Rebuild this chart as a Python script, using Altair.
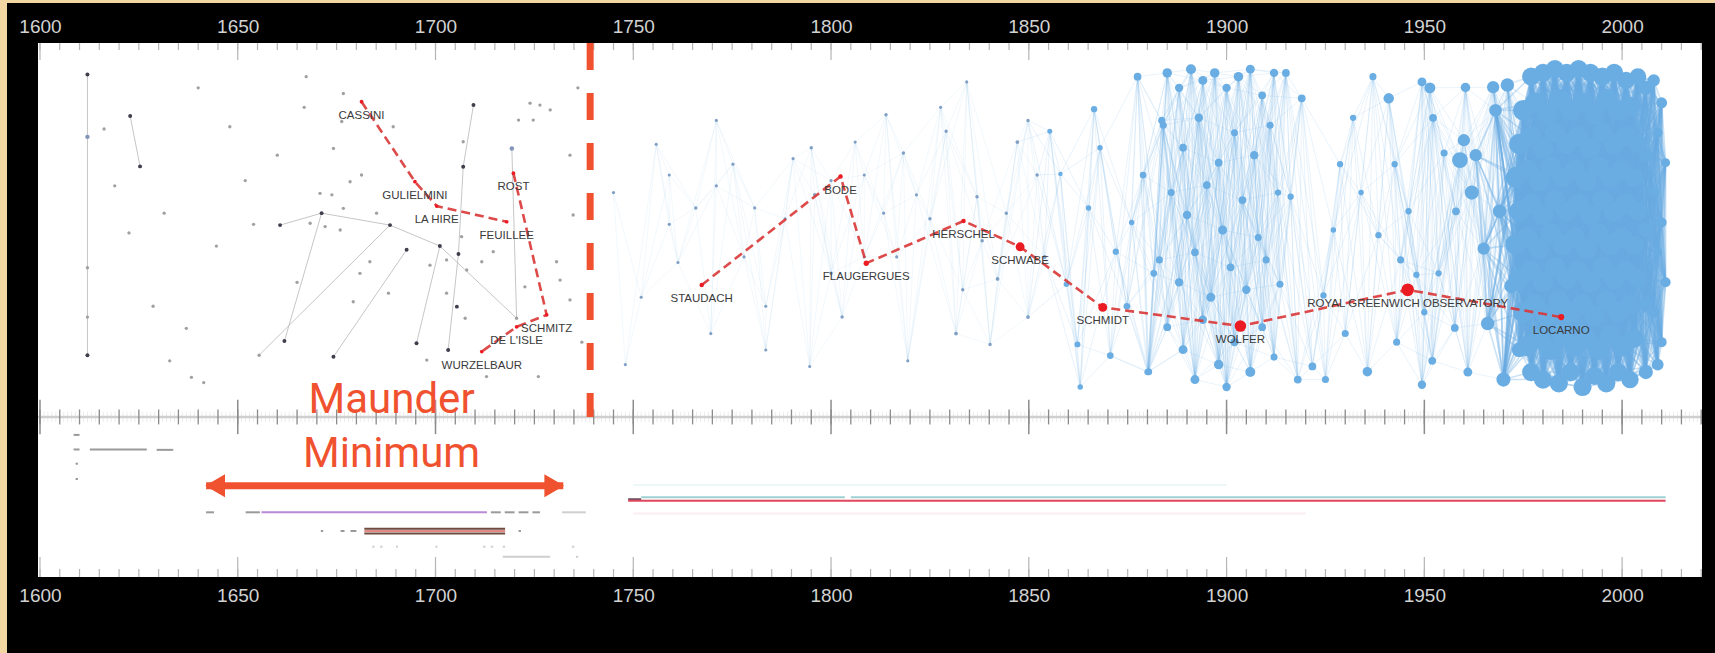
import altair as alt
import pandas as pd

# ---------------- axis ticks ----------------
TICK_YEARS = list(range(1600, 2021, 5))
MAJOR_YEARS = list(range(1600, 2021, 50))
LABEL_YEARS = list(range(1600, 2001, 50))
YEAR_TICKS = list(range(1600, 2021, 1))

# ---------------- pre-1740 observers (year, layout position, kind) ----------------
GRAY = [
    (1612, 8.4, "d"), (1612, 25.1, "s"), (1612, 60.1, "g"), (1612, 73.3, "g"), (1612, 83.5, "d"),   # 0-4
    (1622.8, 19.5, "d"), (1625.3, 33, "d"), (1616.2, 23, "g"), (1622.5, 50.8, "g"), (1632.8, 85, "g"),  # 5-9
    (1638.3, 89.4, "g"), (1641.4, 90.8, "g"), (1648, 22.4, "g"), (1654, 48.5, "g"), (1660.7, 48.7, "d"),  # 10-14
    (1661.8, 79.7, "d"), (1655.4, 83.5, "g"), (1637, 76.3, "g"), (1631.4, 45.5, "g"), (1644.6, 54.3, "g"),  # 15-19
    (1628.6, 70.4, "g"), (1618.9, 38.2, "g"), (1651.9, 36.8, "g"), (1667.3, 9, "g"), (1666.8, 17.2, "g"),  # 20-24
    (1676.7, 13.5, "g"), (1709.6, 16.6, "d"), (1723.9, 16.1, "g"), (1726.4, 16.6, "g"), (1729, 17.9, "g"),  # 25-29
    (1724.7, 20.6, "g"), (1721, 20.6, "g"), (1676.3, 21.0, "g"), (1689.3, 22.4, "g"), (1674.2, 28.2, "g"),  # 30-34
    (1707, 26.4, "g"), (1719.3, 28.2, "s"), (1707, 33.1, "d"), (1678.4, 37.1, "g"), (1681.3, 35.3, "g"),  # 35-39
    (1670.8, 40.2, "g"), (1673.8, 40.6, "g"), (1671.2, 45.5, "d"), (1688.5, 48.7, "d"), (1676.7, 44.2, "g"),  # 40-44
    (1685.1, 45.5, "g"), (1668.3, 48.2, "g"), (1672.1, 49.1, "g"), (1675.9, 50, "g"), (1706.6, 51.8, "g"),  # 45-49
    (1692.7, 55.3, "d"), (1701.1, 54.3, "d"), (1705.8, 56.4, "d"), (1714.6, 55.8, "g"), (1683.4, 58.5, "g"),  # 50-54
    (1680.9, 61.6, "g"), (1698.6, 59.4, "g"), (1702.8, 58.0, "g"), (1707.9, 60.7, "g"), (1711.7, 58.5, "g"),  # 55-59
    (1730.6, 58.5, "g"), (1734.8, 46.0, "g"), (1679.2, 69.2, "g"), (1688.1, 66.9, "g"), (1702.8, 66.9, "g"),  # 60-64
    (1705.4, 70.5, "d"), (1707.5, 73.6, "g"), (1722.6, 65.2, "g"), (1731.5, 63.4, "g"), (1734, 68.7, "g"),  # 65-69
    (1674.2, 83.9, "d"), (1695.2, 80.3, "d"), (1703.2, 82.1, "d"), (1697.8, 84.8, "g"), (1712.9, 89.2, "g"),  # 70-74
    (1720.5, 73.6, "g"), (1726, 89.2, "g"), (1665, 64, "g"), (1660, 30, "g"), (1640, 12, "g"),  # 75-79
    (1734, 30, "g"), (1737, 80, "g"), (1736, 12, "g"),  # 80-82
]
GRAY_EDGES = [
    (0, 1), (1, 2), (2, 3), (3, 4), (5, 6), (26, 37), (37, 52), (52, 72), (36, 75),
    (51, 71), (14, 42), (42, 43), (43, 51), (43, 16), (50, 70), (15, 42), (51, 75),
]

# ---------------- post-1740 observers (year, layout position, weight) ----------------
BLUE_A = [
    (1755.8, 27.1, 10), (1759.1, 35.3, 10), (1765.8, 44.1, 12), (1759.1, 48.5, 10), (1771, 38.2, 10),
    (1775.2, 32.4, 10), (1780.7, 44.1, 10), (1783.5, 70.4, 10), (1778, 57.2, 10), (1788.4, 47, 10),
    (1795, 28, 12), (1795.9, 40.6, 14), (1800, 36.8, 10), (1802.8, 73.3, 12), (1806.1, 26.5, 10),
    (1808.4, 35.3, 10), (1813.9, 19.2, 12), (1813.3, 45.5, 10), (1816.6, 57.2, 10), (1818.3, 29.4, 12),
    (1821.6, 40.6, 10), (1825, 47, 12), (1827.7, 17.2, 10), (1829.1, 23.6, 12), (1831.6, 77.7, 14),
    (1833.3, 66, 12), (1836.9, 41.1, 12), (1838.2, 52.9, 12), (1840.2, 80.6, 12), (1842.1, 63.1, 14),
    (1844.3, 45.5, 12), (1847.1, 26.5, 14), (1849.8, 73.3, 14), (1852.1, 35.3, 12), (1854, 57.2, 16),
    (1834.3, 10.4, 10), (1849.8, 20.7, 12), (1808.4, 57.2, 10), (1800, 61.6, 12), (1790.4, 30.9, 10),
    (1771, 20.7, 10), (1761.3, 58.7, 10), (1769.6, 77.7, 10), (1783.5, 82.1, 10), (1794.6, 86.5, 10),
    (1819.4, 85, 10), (1745, 40, 10), (1752, 68, 10), (1748, 86, 10),
]
BLUE_B = [
    (1855.3, 23.6, 25), (1859.5, 64.5, 30), (1862.3, 80.6, 35), (1865.1, 44.1, 30), (1866.5, 17.7, 40),
    (1870.6, 83.6, 45), (1872, 55.8, 40), (1874.8, 70.4, 45), (1877.5, 9, 60), (1878.9, 35.3, 45),
    (1880.3, 87.9, 50), (1881.6, 61.6, 45), (1883.6, 20.7, 50), (1858, 35, 20), (1863, 92, 30),
    (1868, 28, 30), (1876, 48, 30),
    (1885, 8, 90), (1888, 12, 70), (1891, 7, 100), (1894, 10, 80), (1897, 8, 90), (1900, 12, 70),
    (1903, 9, 90), (1906, 7, 80), (1909, 14, 60), (1912, 8, 70),
    (1884, 22, 50), (1889, 28, 60), (1893, 20, 70), (1898, 32, 60), (1902, 24, 50), (1907, 30, 70), (1911, 22, 50),
    (1886, 40, 50), (1890, 46, 70), (1895, 38, 60), (1899, 50, 80), (1904, 42, 60), (1908, 52, 50), (1913, 40, 40),
    (1883, 58, 50), (1888, 64, 70), (1892, 56, 60), (1896, 68, 80), (1901, 60, 60), (1905, 66, 70), (1910, 58, 50),
    (1885, 76, 60), (1889, 82, 80), (1894, 74, 70), (1898, 86, 90), (1902, 80, 70), (1906, 88, 100), (1909, 76, 60),
    (1912, 84, 50), (1880, 88, 40), (1892, 90, 80), (1900, 92, 70),
    (1913.5, 64.5, 50), (1916.2, 41.1, 40), (1919, 14.8, 60), (1921.7, 86.5, 60), (1924.5, 67.5, 40),
    (1928.7, 32.4, 40), (1930, 77.7, 50), (1935.6, 87.9, 90), (1938.4, 51.4, 40), (1941, 14.8, 110),
    (1942.5, 32.4, 40), (1949.4, 10.4, 80), (1949.4, 91.4, 70), (1953.6, 61.6, 40), (1955, 29.4, 50),
    (1957.7, 76.2, 60), (1960.4, 11.9, 90), (1944, 58, 50), (1948, 62, 40), (1950, 72, 40),
    (1943, 80, 50), (1952, 85, 60), (1925, 90, 50), (1932, 20, 40), (1937, 9, 50), (1946, 45, 40),
    (1958, 45, 60), (1961, 88, 80), (1918, 90, 60), (1915, 8, 60), (1927, 50, 30), (1934, 40, 30),
    (1951.4, 12, 120), (1952.2, 20, 60), (1967.4, 11.8, 150), (1971, 11.2, 180),
    (1959, 31.3, 250), (1962, 40, 200), (1972.5, 53.5, 250), (1960, 26, 150),
]
BLOB = [
    (1963, 30, 150), (1965, 55, 150), (1966, 75, 180), (1968, 18, 160), (1969, 45, 180), (1970, 90, 200),
    (1972, 65, 200), (1973, 35, 200), (1974, 82, 220),
    (1977, 9, 330), (1980, 8, 330), (1983, 7, 330), (1986, 8, 330), (1989, 7, 330), (1992, 8, 330),
    (1995, 9, 330), (1998, 8, 330), (2001, 10, 300), (2004, 9, 280),
    (1975, 18, 420), (1978, 16, 420), (1981, 19, 420), (1984, 15, 420), (1987, 18, 420), (1990, 16, 420),
    (1993, 19, 420), (1996, 15, 420), (1999, 18, 420), (2002, 17, 380),
    (1974, 27, 420), (1977, 25, 420), (1980, 28, 420), (1983, 24, 420), (1986, 27, 420), (1989, 25, 420),
    (1992, 28, 420), (1995, 24, 420), (1998, 27, 420), (2001, 25, 420), (2004, 27, 360),
    (1973, 36, 380), (1976, 34, 420), (1979, 37, 420), (1982, 33, 420), (1985, 36, 420), (1988, 34, 420),
    (1991, 37, 420), (1994, 33, 420), (1997, 36, 420), (2000, 34, 420), (2003, 36, 360),
    (1974, 45, 420), (1977, 43, 420), (1980, 46, 420), (1983, 42, 420), (1986, 45, 420), (1989, 43, 420),
    (1992, 46, 420), (1995, 42, 420), (1998, 45, 420), (2001, 43, 420), (2004, 45, 360),
    (1973, 54, 380), (1976, 52, 420), (1979, 55, 420), (1982, 51, 420), (1985, 54, 420), (1988, 52, 420),
    (1991, 55, 420), (1994, 51, 420), (1997, 54, 420), (2000, 52, 420), (2003, 54, 360),
    (1974, 63, 420), (1977, 61, 420), (1980, 64, 420), (1983, 60, 420), (1986, 63, 420), (1989, 61, 420),
    (1992, 64, 420), (1995, 60, 420), (1998, 63, 420), (2001, 61, 420), (2004, 63, 360),
    (1975, 72, 420), (1978, 70, 420), (1981, 73, 420), (1984, 69, 420), (1987, 72, 420), (1990, 70, 420),
    (1993, 73, 420), (1996, 69, 420), (1999, 72, 420), (2002, 70, 380),
    (1976, 81, 420), (1979, 79, 420), (1982, 82, 420), (1985, 78, 420), (1988, 81, 420), (1991, 79, 420),
    (1994, 82, 420), (1997, 78, 420), (2000, 81, 420), (2003, 79, 360),
    (1977, 88, 330), (1980, 90, 330), (1984, 91, 330), (1987, 88, 330), (1990, 92, 330), (1993, 89, 330),
    (1996, 91, 330), (1999, 88, 330), (2002, 90, 300),
    (2008, 10, 150), (2010, 16, 120), (2009, 24, 100), (2011, 32, 80), (2008, 40, 120), (2010, 48, 100),
    (2009, 56, 80), (2011, 64, 100), (2008, 72, 120), (2010, 80, 100), (2009, 86, 140), (2006, 50, 200),
    (2006, 30, 200), (2006, 70, 200), (2006, 12, 200), (2006, 88, 200),
]

# ---------------- primary-observer backbone ----------------
PATH_NAMES = ["CASSINI", "GULIELMINI", "LA HIRE", "FEUILLEE",
              "ROST", "SCHMITZ", "DE L'ISLE", "WURZELBAUR",
              "STAUDACH", "BODE", "FLAUGERGUES", "HERSCHEL", "SCHWABE", "SCHMIDT",
              "WOLFER", "ROYAL GREENWICH OBSERVATORY", "LOCARNO"]
PATH_YEAR = [1681.3, 1694.8, 1700.3, 1718.0,
             1719.7, 1728.1, 1720.5, 1711.7,
             1767.3, 1802.4, 1808.9, 1833.5, 1847.8, 1868.7,
             1903.5, 1945.8, 1984.6]
PATH_POS = [15.7, 37.1, 43.6, 47.8,
            34.8, 72.7, 75.9, 82.5,
            64.7, 35.7, 58.9, 47.6, 54.5, 70.7,
            75.7, 66.0, 73.3]
PATH_WEIGHT = [14, 14, 14, 14, 14, 14, 14, 14,
               20, 20, 28, 20, 80, 80, 133, 160, 38]
PATH_CHAIN = ["a", "a", "a", "a", "b", "b", "b", "b",
              "c", "c", "c", "c", "c", "c", "c", "c", "c"]

# ---------------- observation spans (bottom panel) ----------------
SPAN_START = [1608.5, 1608.5, 1612.6, 1629.5, 1609.0, 1609.0,
              1642, 1652, 1656, 1714, 1717.5, 1721, 1724.5, 1732,
              1682, 1682, 1682, 1671, 1676, 1678.5, 1721,
              1684, 1686, 1690, 1700, 1712, 1714, 1717, 1734.5,
              1717, 1735.5,
              1748.7, 1752, 1805, 1748.7, 1750, 1750]
SPAN_END = [1610.0, 1610.0, 1627.0, 1633.7, 1609.6, 1609.6,
            1644, 1655.6, 1713, 1716.5, 1720, 1723.5, 1726.4, 1738,
            1717.6, 1717.6, 1717.6, 1671.6, 1677, 1680, 1721.6,
            1684.6, 1686.6, 1690.5, 1700.5, 1712.6, 1714.6, 1717.6, 1735.1,
            1729, 1736.1,
            1752, 1803.5, 2011, 2011, 1900, 1920]
SPAN_ROW = [104.8, 108.7, 108.7, 108.8, 112.5, 116.6,
            125.5, 125.5, 125.5, 125.5, 125.5, 125.5, 125.5, 125.5,
            129.9, 130.5, 131.2, 130.5, 130.5, 130.5, 130.5,
            134.7, 134.7, 134.7, 134.7, 134.7, 134.7, 134.7, 134.7,
            137.4, 137.4,
            122.0, 121.5, 121.5, 122.4, 118.2, 125.8]
SPAN_GROUP = ["gray", "gray", "gray", "gray", "gray", "gray",
              "gray", "gray", "purple", "gray", "gray", "gray", "gray", "faint",
              "brown", "pink", "brown", "gray", "gray", "gray", "gray",
              "faint", "faint", "faint", "faint", "faint", "faint", "faint", "faint",
              "faint", "faint",
              "dark", "teal", "teal", "red", "faintteal", "faintpink"]

# ---------------- annotations ----------------
MAUNDER_TEXT = ["Maunder", "Minimum"]
MAUNDER_YEAR = [1688.9, 1688.9]
MAUNDER_POS = [95.6, 109.8]
ARROW_YEARS = [1642.0, 1732.3]
ARROW_POS = 118.4
BREAK_YEAR = 1739.1

# =====================================================================
W, H = 1664, 534
xs = alt.Scale(domain=[1599.5, 2020.2], nice=False, zero=False)
ys = alt.Scale(domain=[0, 142.8], reverse=True, nice=False, zero=False)
RED = "#f0522f"
BLUE = "#6aade3"


def X(f, **kw):
    return alt.X(f, type="quantitative", scale=xs, **({"axis": None} | kw))


def Y(f):
    return alt.Y(f, type="quantitative", scale=ys, axis=None)


one = pd.DataFrame({"k": [0]})

# frame strips (photo border)
gold_left = alt.Chart(one).mark_rect(color="#f3d7a2").encode(
    x=alt.value(-38), x2=alt.value(-31), y=alt.value(-43), y2=alt.value(H + 76))
gold_top = alt.Chart(one).mark_rect(color="#f3d7a2").encode(
    x=alt.value(-38), x2=alt.value(W + 13), y=alt.value(-43), y2=alt.value(-40))

ticks = pd.DataFrame({"year": TICK_YEARS})
majors = pd.DataFrame({"year": MAJOR_YEARS})
labels = pd.DataFrame({"year": LABEL_YEARS})

top_axis = alt.Chart(labels).mark_rule(opacity=0).encode(
    x=X("year", axis=alt.Axis(orient="top", values=LABEL_YEARS, format="d", labelColor="#d2d2d2",
                              labelFontSize=19, labelFont="Liberation Sans", ticks=False, domain=False,
                              grid=False, labelPadding=7, title=None)),
    y=alt.value(0), y2=alt.value(1))
bot_axis = alt.Chart(labels).mark_rule(opacity=0).encode(
    x=X("year", axis=alt.Axis(orient="bottom", values=LABEL_YEARS, format="d", labelColor="#d2d2d2",
                              labelFontSize=19, labelFont="Liberation Sans", ticks=False, domain=False,
                              grid=False, labelPadding=9, title=None)),
    y=alt.value(H - 1), y2=alt.value(H))

top_minor = alt.Chart(ticks).mark_rule(color="#b5b5b5", strokeWidth=1.2).encode(
    x=X("year"), y=alt.value(0), y2=alt.value(7))
top_major = alt.Chart(majors).mark_rule(color="#b5b5b5", strokeWidth=1.2).encode(
    x=X("year"), y=alt.value(0), y2=alt.value(17))
bot_minor = alt.Chart(ticks).mark_rule(color="#b5b5b5", strokeWidth=1.2).encode(
    x=X("year"), y=alt.value(H - 8), y2=alt.value(H))
bot_major = alt.Chart(majors).mark_rule(color="#b5b5b5", strokeWidth=1.2).encode(
    x=X("year"), y=alt.value(H - 20), y2=alt.value(H))

mid = pd.DataFrame({"pos": [100]})
mid_line = alt.Chart(mid).mark_rule(color="#cfcfcf", strokeWidth=2.5).encode(
    x=alt.value(0), x2=alt.value(W), y=Y("pos"))
yt = pd.DataFrame({"year": YEAR_TICKS, "a": 98.6, "b": 101.4})
mid_year = alt.Chart(yt).mark_rule(color="#ececec", strokeWidth=1).encode(
    x=X("year"), y=Y("a"), y2="b:Q")
mt = pd.DataFrame({"year": TICK_YEARS, "a": 98.0, "b": 102.0})
mid_minor = alt.Chart(mt).mark_rule(color="#8c8c8c", strokeWidth=1.3).encode(
    x=X("year"), y=Y("a"), y2="b:Q")
mj = pd.DataFrame({"year": MAJOR_YEARS, "a": 95.4, "b": 104.6})
mid_major = alt.Chart(mj).mark_rule(color="#8c8c8c", strokeWidth=1.5).encode(
    x=X("year"), y=Y("a"), y2="b:Q")

# network edges
ge = pd.DataFrame([{"x": GRAY[i][0], "y": GRAY[i][1], "x2": GRAY[j][0], "y2": GRAY[j][1]}
                   for i, j in GRAY_EDGES])
gray_edges = alt.Chart(ge).mark_rule(color="#b8b8b8", strokeWidth=1, opacity=0.8).encode(
    x=X("x"), y=Y("y"), x2="x2:Q", y2="y2:Q")

blue_all = BLUE_A + BLUE_B + BLOB
n_a = len(BLUE_A)
n_pre = len(BLUE_A) + len(BLUE_B)
rows_early, rows_mid, rows_dense = [], [], []
for i in range(len(blue_all)):
    for j in range(i + 1, len(blue_all)):
        if abs(blue_all[i][0] - blue_all[j][0]) <= 10:
            r = {"x": blue_all[i][0], "y": blue_all[i][1], "x2": blue_all[j][0], "y2": blue_all[j][1]}
            if i >= n_pre and j >= n_pre:
                rows_dense.append(r)
            elif i < n_a and j < n_a:
                rows_early.append(r)
            else:
                rows_mid.append(r)
early_edges = alt.Chart(pd.DataFrame(rows_early)).mark_rule(color=BLUE, strokeWidth=0.9, opacity=0.1).encode(
    x=X("x"), y=Y("y"), x2="x2:Q", y2="y2:Q")
blue_edges = alt.Chart(pd.DataFrame(rows_mid)).mark_rule(color=BLUE, strokeWidth=0.9, opacity=0.17).encode(
    x=X("x"), y=Y("y"), x2="x2:Q", y2="y2:Q")
blob_edges = alt.Chart(pd.DataFrame(rows_dense)).mark_rule(color=BLUE, strokeWidth=1.6, opacity=0.35).encode(
    x=X("x"), y=Y("y"), x2="x2:Q", y2="y2:Q")

gn = pd.DataFrame(GRAY, columns=["year", "pos", "kind"])
gray_nodes = alt.Chart(gn).mark_circle(opacity=1).encode(
    x=X("year"), y=Y("pos"),
    color=alt.Color("kind:N", scale=alt.Scale(domain=["g", "d", "s"],
                                              range=["#a0a0a0", "#3e3e4c", "#8196b8"]), legend=None),
    size=alt.Size("kind:N", scale=alt.Scale(domain=["g", "d", "s"], range=[11, 20, 16]), legend=None))

bn = pd.DataFrame(blue_all, columns=["year", "pos", "weight"])
bn["kind"] = ["a"] * len(BLUE_A) + ["b"] * (len(BLUE_B) + len(BLOB))
blue_nodes = alt.Chart(bn).mark_circle(opacity=1).encode(
    x=X("year"), y=Y("pos"),
    color=alt.Color("kind:N", scale=alt.Scale(domain=["a", "b"], range=["#7f9fc4", BLUE]), legend=None),
    size=alt.Size("weight:Q", scale=alt.Scale(domain=[0, 300], range=[0, 300]), legend=None))

# spans
sp = pd.DataFrame({"start": SPAN_START, "end": SPAN_END, "row": SPAN_ROW, "group": SPAN_GROUP})
span_dom = ["gray", "faint", "purple", "brown", "pink", "dark", "teal", "red", "faintteal", "faintpink"]
span_rng = ["#9a9a9a", "#cfcfcf", "#b98ad6", "#6e4a40", "#e48a86", "#6b5060", "#9fd1d4", "#e0465c",
            "#eef7f7", "#fbeef1"]
spans = alt.Chart(sp).mark_rule(strokeWidth=2).encode(
    x=X("start"), x2="end:Q", y=Y("row"),
    color=alt.Color("group:N", scale=alt.Scale(domain=span_dom, range=span_rng), legend=None))

# break line
br = pd.DataFrame({"year": [BREAK_YEAR], "a": [0], "b": [100]})
break_line = alt.Chart(br).mark_rule(color=RED, strokeWidth=7, strokeDash=[27, 23]).encode(
    x=X("year"), y=Y("a"), y2="b:Q")

# Maunder annotation
mt_df = pd.DataFrame({"t": MAUNDER_TEXT, "year": MAUNDER_YEAR, "pos": MAUNDER_POS})
maunder = alt.Chart(mt_df).mark_text(color=RED, font="Roboto", fontSize=42, baseline="middle",
                                      align="center").encode(x=X("year"), y=Y("pos"), text="t:N")
ar = pd.DataFrame({"a": [ARROW_YEARS[0]], "b": [ARROW_YEARS[1]], "pos": [ARROW_POS]})
shaft = alt.Chart(ar).mark_rule(color=RED, strokeWidth=7).encode(
    x=X("a"), x2="b:Q", y=Y("pos"))
head_l = alt.Chart(ar).mark_point(shape="triangle-left", filled=True, color=RED, opacity=1,
                                  size=520, xOffset=9).encode(x=X("a"), y=Y("pos"))
head_r = alt.Chart(ar).mark_point(shape="triangle-right", filled=True, color=RED, opacity=1,
                                  size=520, xOffset=-9).encode(x=X("b"), y=Y("pos"))

# backbone
pdf = pd.DataFrame({"name": PATH_NAMES, "year": PATH_YEAR, "pos": PATH_POS,
                    "weight": PATH_WEIGHT, "chain": PATH_CHAIN, "order": range(len(PATH_NAMES))})
path_line = alt.Chart(pdf).mark_line(color="#d93636", strokeWidth=2.6, strokeDash=[9, 5], opacity=0.9).encode(
    x=X("year"), y=Y("pos"), detail="chain:N", order="order:Q")
path_nodes = alt.Chart(pdf).mark_circle(color="#ea1b22", opacity=1).encode(
    x=X("year"), y=Y("pos"),
    size=alt.Size("weight:Q", scale=alt.Scale(domain=[0, 300], range=[0, 300]), legend=None))
path_labels = alt.Chart(pdf).mark_text(color="#3a3a3a", font="Liberation Sans", fontSize=11.5,
                                       dy=14, baseline="middle", align="center").encode(
    x=X("year"), y=Y("pos"), text="name:N")

chart = alt.layer(
    gold_left, gold_top,
    top_axis, bot_axis,
    top_minor, top_major, bot_minor, bot_major,
    mid_year, mid_line, mid_minor, mid_major,
    gray_edges, early_edges, blue_edges, blob_edges, gray_nodes, blue_nodes,
    spans, break_line, maunder, shaft, head_l, head_r,
    path_line, path_nodes, path_labels,
).resolve_axis(x="independent").resolve_scale(color="independent", size="independent").properties(
    width=W, height=H, background="black",
    padding={"left": 38, "top": 43, "right": 13, "bottom": 76},
    autosize=alt.AutoSizeParams(type="none"),
).configure_view(fill="white", stroke=None)

chart.save("out.html", embed_options={"renderer": "svg", "actions": False})
